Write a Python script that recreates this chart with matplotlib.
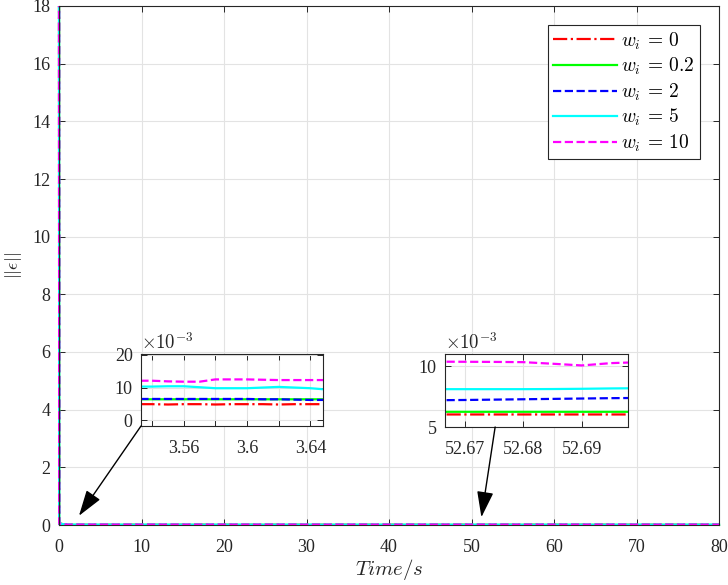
import matplotlib
matplotlib.use("Agg")
import matplotlib.pyplot as plt
from matplotlib.patches import ConnectionPatch, Rectangle
from matplotlib.ticker import FuncFormatter

plt.rcParams['font.family'] = ['Liberation Serif', 'DejaVu Serif']
plt.rcParams['mathtext.fontset'] = 'cm'

# ---------------- data ----------------
t = [0.0, 0.02, 1.0,
     3.53, 3.54, 3.55, 3.56, 3.57, 3.58, 3.59, 3.60, 3.61, 3.62, 3.63, 3.64, 3.65,
     20.0, 40.0,
     52.665, 52.67, 52.675, 52.68, 52.685, 52.69, 52.695, 52.70,
     65.0, 80.0]

y_w0 = [25.0, 0.05, 0.0050,
        0.0049, 0.0049, 0.0048, 0.0049, 0.0049, 0.0048, 0.0049, 0.0049, 0.0049, 0.0048, 0.0049, 0.0049, 0.0049,
        0.0055, 0.0058,
        0.00603, 0.00603, 0.00603, 0.00603, 0.00603, 0.00603, 0.00603, 0.00603,
        0.0060, 0.0060]
y_w02 = [25.0, 0.05, 0.0064,
         0.0064, 0.0064, 0.0064, 0.0064, 0.0064, 0.0064, 0.0064, 0.0064, 0.0064, 0.0064, 0.0064, 0.0064, 0.0064,
         0.0063, 0.0063,
         0.00625, 0.00625, 0.00625, 0.00625, 0.00625, 0.00625, 0.00625, 0.00625,
         0.0063, 0.0063]
y_w2 = [25.0, 0.05, 0.0065,
        0.0065, 0.0065, 0.0065, 0.0065, 0.0065, 0.0065, 0.0065, 0.0065, 0.0064, 0.0064, 0.0063, 0.0062, 0.0062,
        0.0068, 0.0071,
        0.00720, 0.00722, 0.00725, 0.00728, 0.00731, 0.00734, 0.00737, 0.00739,
        0.0074, 0.0074]
y_w5 = [25.0, 0.05, 0.0103,
        0.0103, 0.0103, 0.0104, 0.0104, 0.0101, 0.0098, 0.0098, 0.0098, 0.0100, 0.0102, 0.0100, 0.0098, 0.0094,
        0.0090, 0.0085,
        0.00811, 0.00811, 0.00811, 0.00811, 0.00812, 0.00814, 0.00817, 0.00819,
        0.0082, 0.0082]
y_w10 = [25.0, 0.05, 0.0121,
         0.0121, 0.0121, 0.0119, 0.0118, 0.0118, 0.0125, 0.0125, 0.0125, 0.0124, 0.0123, 0.0123, 0.0123, 0.0123,
         0.0115, 0.0108,
         0.01037, 0.01036, 0.01035, 0.01033, 0.01020, 0.01006, 0.01025, 0.01033,
         0.0103, 0.0103]

labels = [r'$w_i\,=\,0$', r'$w_i\,=\,0.2$', r'$w_i\,=\,2$', r'$w_i\,=\,5$', r'$w_i\,=\,10$']
series = [y_w0, y_w02, y_w2, y_w5, y_w10]
colors = ['#ff0000', '#00ff00', '#0000ff', '#00ffff', '#ff00ff']
styles = ['-.', '-', '--', '-', '--']

xticks_main = [0, 10, 20, 30, 40, 50, 60, 70, 80]
yticks_main = [0, 2, 4, 6, 8, 10, 12, 14, 16, 18]

inset1_xticks = [3.54, 3.56, 3.58, 3.60, 3.62, 3.64]
inset1_xticklabels = ['', '3.56', '', '3.6', '', '3.64']
inset1_yticks = [0.0, 0.01, 0.02]
inset2_xticks = [52.67, 52.68, 52.69]
inset2_xticklabels = ['52.67', '52.68', '52.69']
inset2_yticks = [0.005, 0.010]

# ---------------- figure ----------------
W, H = 728, 585
fig = plt.figure(figsize=(W / 100, H / 100), dpi=100)


def px_axes(x0, y0, x1, y1):
    return fig.add_axes([x0 / W, 1 - y1 / H, (x1 - x0) / W, (y1 - y0) / H])


def style_axes(ax):
    for s in ax.spines.values():
        s.set_color('#262626')
        s.set_linewidth(0.8)
    ax.tick_params(direction='in', top=True, right=True, colors='#262626',
                   labelcolor='#262626', labelsize=13, length=4, width=0.7)
    ax.tick_params(axis='x', pad=10)
    ax.tick_params(axis='y', pad=6)
    ax.grid(True, color='#e3e3e3', linewidth=0.8)
    ax.set_axisbelow(True)


ax = px_axes(59, 6, 719, 525)
clip = Rectangle((-0.005, -0.005), 1.01, 1.005, transform=ax.transAxes,
                 facecolor='none', edgecolor='none')
for y, c, ls, lab in zip(series, colors, styles, labels):
    ln, = ax.plot(t, y, color=c, linestyle=ls, linewidth=1.6, label=lab)
    ln.set_clip_path(clip)
ax.set_xlim(0, 80)
ax.set_ylim(0, 18)
ax.set_xticks(xticks_main)
ax.set_yticks(yticks_main)
style_axes(ax)
ax.set_xlabel(r'$Time/s$', fontsize=15, color='#262626', labelpad=1)
ax.set_ylabel(r'$||\epsilon||$', fontsize=13, color='#262626', labelpad=6)
leg = ax.legend(loc='upper right', fontsize=14, frameon=True, fancybox=False,
                edgecolor='#262626', framealpha=1, handlelength=3.3,
                borderaxespad=1.0, labelspacing=0.22, handletextpad=0.2,
                borderpad=0.25)
leg.get_frame().set_linewidth(0.8)

fmt = FuncFormatter(lambda v, p: f'{v * 1000:g}')

# inset 1
ax1 = px_axes(141, 354, 323, 426)
for y, c, ls in zip(series, colors, styles):
    ax1.plot(t, y, color=c, linestyle=ls, linewidth=1.6)
ax1.set_xlim(3.533, 3.648)
ax1.set_ylim(-0.0018, 0.0203)
ax1.set_xticks(inset1_xticks)
ax1.set_xticklabels(inset1_xticklabels)
ax1.set_yticks(inset1_yticks)
ax1.yaxis.set_major_formatter(fmt)
style_axes(ax1)
ax1.text(0.0, 1.02, r'$\times10^{-3}$', transform=ax1.transAxes, fontsize=13.5,
         color='#262626', ha='left', va='bottom')

# inset 2
ax2 = px_axes(445, 354, 628, 427)
for y, c, ls in zip(series, colors, styles):
    ax2.plot(t, y, color=c, linestyle=ls, linewidth=1.6)
ax2.set_xlim(52.6666, 52.6979)
ax2.set_ylim(0.005, 0.0110)
ax2.set_xticks(inset2_xticks)
ax2.set_xticklabels(inset2_xticklabels)
ax2.set_yticks(inset2_yticks)
ax2.yaxis.set_major_formatter(fmt)
style_axes(ax2)
ax2.text(0.0, 1.02, r'$\times10^{-3}$', transform=ax2.transAxes, fontsize=13.5,
         color='#262626', ha='left', va='bottom')

# arrows
for axi, xa, xyB in [(ax1, 0.0, (2.42, 0.32)), (ax2, 0.274, (51.2, 0.27))]:
    con = ConnectionPatch(xyA=(xa, 0.0), coordsA='axes fraction', axesA=axi,
                          xyB=xyB, coordsB='data', axesB=ax,
                          arrowstyle='-|>,head_length=1.0,head_width=0.32',
                          mutation_scale=16, color='black', linewidth=1.0)
    fig.add_artist(con)

fig.savefig('out.png', dpi=100)
